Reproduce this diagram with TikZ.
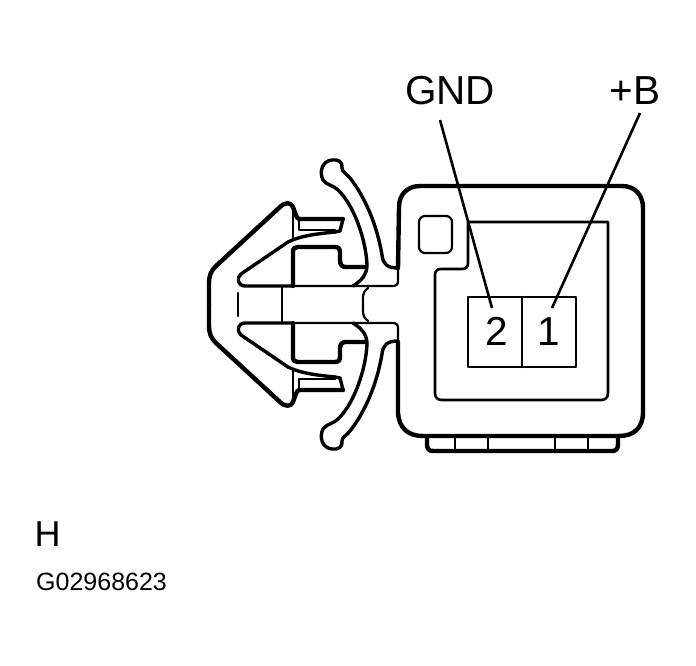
\documentclass[tikz,border=0pt]{standalone}
\usepackage{fontspec}
\setmainfont{Liberation Sans}
\tikzset{
  heavy/.style={line width=4.4pt,line join=round,line cap=round},
  mid/.style={line width=3.4pt,line join=round,line cap=round},
  light/.style={line width=2.2pt,line join=round,line cap=round},
  thinbox/.style={line width=2.6pt,line join=round,line cap=round},
  big/.style={inner sep=0pt,anchor=base,font=\fontsize{40.5}{41}\selectfont},
  small/.style={inner sep=0pt,anchor=base west,font=\fontsize{25}{25}\selectfont}
}
\newcommand{\halfclip}{%
  % outer jaw
  \draw[heavy] (209,304.5) -- (209,284) .. controls (209,275) and (211,271) .. (216,266)
    -- (280,207) .. controls (285,202) and (291,202) .. (293,207)
    .. controls (295,212) and (296,218) .. (299,219) -- (343,219);
  \draw[mid] (343,219) -- (340,231) -- (335,232);
  % lower edge of the barb
  \draw[mid] (335,232) .. controls (315,234) and (300,236) .. (288,242) -- (241,274)
    .. controls (236,278) and (238,286) .. (245,286) -- (293,286);
  \draw[light] (293,207) -- (293,238);
  \draw[light] (299,219) -- (299,230) -- (335,230);
  % thick step
  \draw[heavy] (293,286) -- (293,252) .. controls (293,248) and (295,247) .. (298,247)
    -- (335,247) .. controls (339,247) and (340,249) .. (340,253) -- (340,260)
    .. controls (340,265) and (342,267) .. (346,267) -- (366,267);
  % base line and corner
  \draw[light] (293,286) -- (392,286) .. controls (396,286) and (398,285) .. (398,281) -- (398,267);
  % arm
  \draw[mid] (353,286) .. controls (361,281) and (367,275) .. (367,265)
    .. controls (366,240) and (354,205) .. (338,190)
    .. controls (333,185) and (328,186) .. (323,180)
    .. controls (319,172) and (322,161) .. (332,160)
    .. controls (338,159) and (343,162) .. (342,168)
    .. controls (342,172) and (346,173) .. (350,178)
    .. controls (365,197) and (377,225) .. (382,255)
    .. controls (383,264) and (387,268) .. (398,268);
  % short verticals and notch
  \draw[light] (238,293) -- (238,304.5);
  \draw[light] (282,286) -- (282,304.5);
  \draw[light] (368,288) .. controls (364,291) and (363,294) .. (363,298) -- (363,304.5);
}
\begin{document}
\begin{tikzpicture}[x=1pt,y=-1pt]
\useasboundingbox (0,0) rectangle (696,666);
\halfclip
\begin{scope}[shift={(0,609)},yscale=-1]
\halfclip
\end{scope}
% body
\draw[heavy] (398,268) -- (399,207) .. controls (399,194) and (408,186) .. (420,186)
  -- (622,186) .. controls (635,186) and (643,195) .. (643,208)
  -- (643,412) .. controls (643,428) and (634,436) .. (619,436)
  -- (423,436) .. controls (408,436) and (399,428) .. (398,413) -- (398,342);
\draw[heavy] (427,437) -- (427,444) .. controls (427,449) and (429,451) .. (433,451)
  -- (612,451) .. controls (616,451) and (618,449) .. (618,444) -- (618,437);
\foreach \vx in {455,488,555,588} \draw[light] (\vx,436) -- (\vx,450);
\draw[light,rounded corners=6pt] (419,216) rectangle (452,253);
% inner outline
\draw[thinbox] (468,222) -- (608,222) -- (608,393) .. controls (608,398) and (605,400) .. (601,400)
  -- (442,400) .. controls (438,400) and (435,398) .. (435,393)
  -- (435,275) .. controls (435,271) and (437,269) .. (441,269)
  -- (462,269) .. controls (466,269) and (468,267) .. (468,263) -- cycle;
% terminal block
\draw[thinbox] (468,297) rectangle (576,367);
\draw[thinbox] (522,297) -- (522,367);
% texts
\node[big] (gnd) at (450,105) {GND};
\node[big] (plusb) at (635,105) {+B};
\node[big] (two) at (497,345) {2};
\node[big] (one) at (549,345) {1};
\node[small,font=\fontsize{36}{36}\selectfont] (hh) at (34.5,546) {H};
\node[small] (code) at (36,590) {G02968623};
% leaders
\coordinate (gndstart) at (440,120);
\coordinate (gndend) at (492,308);
\coordinate (bstart) at (640,113);
\coordinate (bend) at (552,308);
\draw[thinbox,line cap=butt] (gndstart) -- (gndend);
\draw[thinbox,line cap=butt] (bstart) -- (bend);
\end{tikzpicture}
\end{document}
